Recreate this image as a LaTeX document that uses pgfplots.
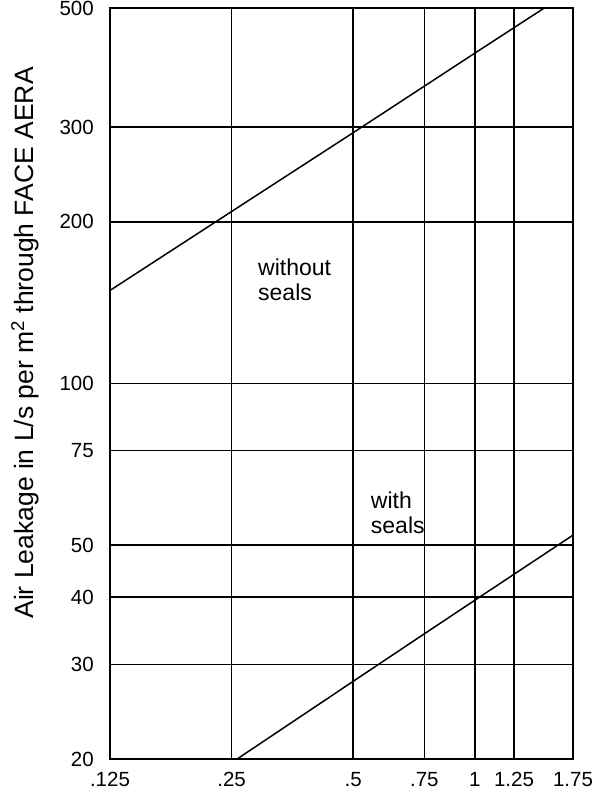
\documentclass[border=0pt]{standalone}
\usepackage{fontspec}
\setmainfont{Liberation Sans}
\usepackage{pgfplots}
\pgfplotsset{compat=1.18}
\begin{document}
\begin{tikzpicture}
\begin{axis}[
  scale only axis, width=463pt, height=751pt,
  xmode=log, ymode=log,
  xmin=0.125, xmax=1.75, ymin=20, ymax=500,
  xtick={0.125,0.25,0.5,0.75,1,1.25,1.75},
  xticklabels={.125,.25,.5,.75,1,1.25,1.75},
  ytick={20,30,40,50,75,100,200,300,500},
  yticklabels={20,30,40,50,75,100,200,300,500},
  minor xtick={}, minor ytick={},
  major tick length=0pt, minor tick length=0pt,
  grid=major,
  major grid style={black, line width=1.6pt},
  axis line style={black, line width=2pt},
  tick label style={font=\fontsize{20.5}{24}\selectfont, inner sep=0pt},
  yticklabel style={anchor=east, xshift=-16pt},
  xticklabel style={anchor=base, yshift=-28pt},
  ylabel={Air Leakage in L/s per m\textsuperscript{2} through FACE AERA},
  every axis y label/.style={at={(axis description cs:-0.1836,0.554)}, rotate=90, anchor=center, font=\fontsize{26.5}{30}\selectfont},
]
\coordinate (sw) at (rel axis cs:0,0);
\addplot[black, line width=1.5pt] coordinates {(0.125,149) (0.25,209) (0.5,293) (1,412) (1.486,500)};
\addplot[black, line width=1.5pt] coordinates {(0.258,20) (0.5,27.9) (0.75,34.2) (1,39.5) (1.75,52.2)};
\node[anchor=base west, font=\fontsize{23}{26}\selectfont, inner sep=0pt] at (axis cs:0.2906,158.9) {without};
\node[anchor=base west, font=\fontsize{23}{26}\selectfont, inner sep=0pt] at (axis cs:0.2906,142.7) {seals};
\node[anchor=base west, font=\fontsize{23}{26}\selectfont, inner sep=0pt] at (axis cs:0.5525,58.6) {with};
\node[anchor=base west, font=\fontsize{23}{26}\selectfont, inner sep=0pt] at (axis cs:0.5525,52.5) {seals};
\end{axis}
\pgfresetboundingbox
\path (sw) ++(-110pt,-37pt) rectangle ++(604pt,796pt);
\end{tikzpicture}
\end{document}
